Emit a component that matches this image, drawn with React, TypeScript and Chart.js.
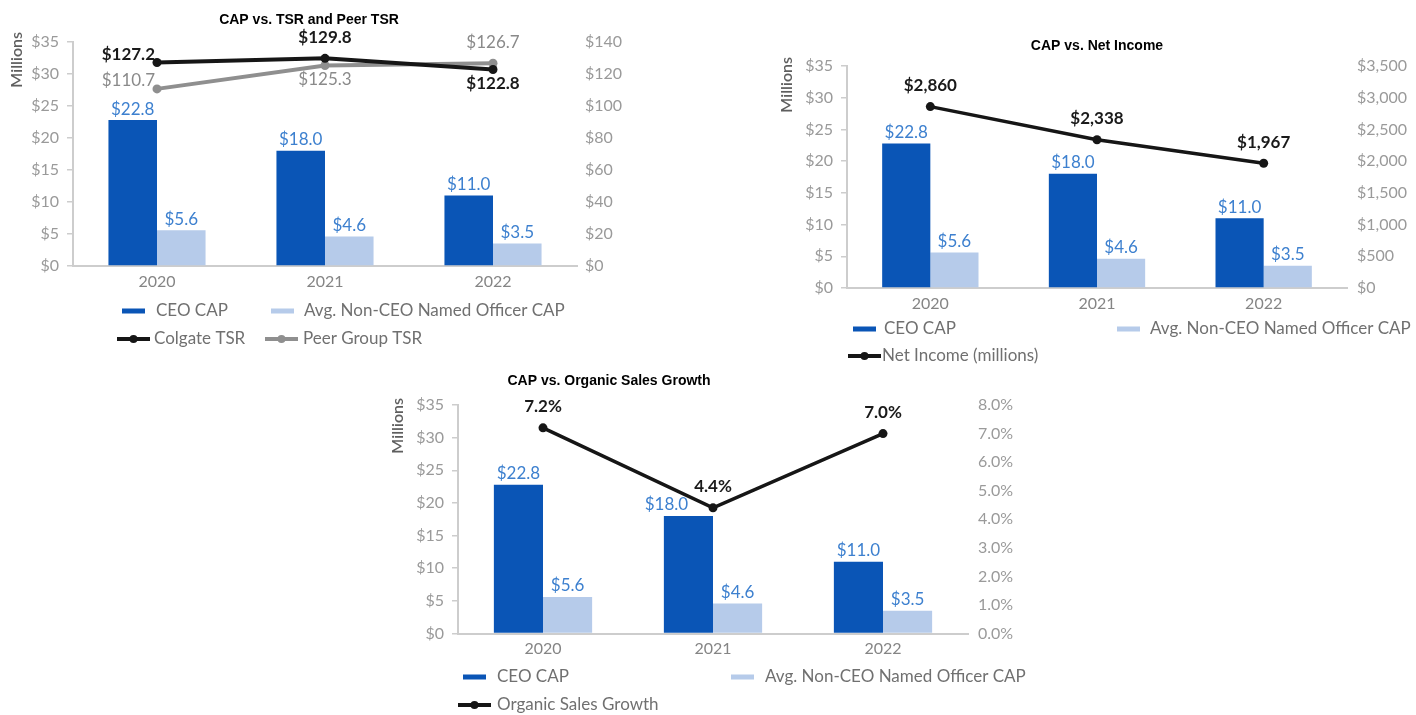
import React, { useEffect, useRef } from 'react';
import { Chart, registerables } from 'chart.js';

Chart.register(...registerables);

// ---------------- data ----------------
const categories = ['2020', '2021', '2022'];
const ceoCap = [22.8, 18.0, 11.0];
const avgNeoCap = [5.6, 4.6, 3.5];
const colgateTsr = [127.2, 129.8, 122.8];
const peerTsr = [110.7, 125.3, 126.7];
const netIncome = [2860, 2338, 1967];
const organicGrowth = [7.2, 4.4, 7.0];

const capAxis = { min: 0, max: 35, step: 5 };
const tsrAxis = { min: 0, max: 140, step: 20 };
const incomeAxis = { min: 0, max: 3500, step: 500 };
const growthAxis = { min: 0, max: 8, step: 1 };

// ---------------- styles ----------------
const CEO_COLOR = '#0a55b6';
const AVG_COLOR = '#b6cbea';
const BAR_LABEL = '#3d80cf';
const BLACK_LINE = '#161616';
const GREY_LINE = '#8f8f8f';
const TICK_COLOR = '#9a9a9a';
const AXIS_COLOR = '#cdcdcd';
const LEGEND_TEXT = '#707070';
const FONT = 'Lato, "Open Sans", sans-serif';

const WL = 55;
const WR = 60;
const HX = 30;

const fmtDollar1 = (v: number) => '$' + v.toFixed(1);
const fmtDollarInt = (v: number) => '$' + v.toLocaleString('en-US');
const fmtPct = (v: number) => v.toFixed(1) + '%';

type LineSpec = {
  label: string;
  data: number[];
  color: string;
  width: number;
  labelColor: string;
  bold: boolean;
  place: string[];
  fmt: (v: number) => string;
};

type LegendItem = { kind: 'bar' | 'line'; color: string; text: string; x: number; y: number; tx: number };

type Spec = {
  id: string;
  canvas: { x: number; y: number; w: number; h: number };
  area: { l: number; t: number; r: number; b: number };
  title: { text: string; x: number; y: number };
  millions: { x: number; top: number };
  right: { min: number; max: number; step: number; fmt: (v: number) => string; pad: number };
  lines: LineSpec[];
  legend: LegendItem[];
  // horizontal nudges for CEO bar labels (style only)
  ceoLabelDx: number[];
};

const specs: Spec[] = [
  {
    id: 'tsr',
    canvas: { x: 0, y: 0, w: 700, h: 362 },
    area: { l: 73, t: 42, r: 577, b: 266 },
    title: { text: 'CAP vs. TSR and Peer TSR', x: 309, y: 20 },
    millions: { x: 17, top: 32 },
    right: { ...tsrAxis, fmt: (v) => '$' + v, pad: 8 },
    lines: [
      { label: 'Colgate TSR', data: colgateTsr, color: BLACK_LINE, width: 4, labelColor: '#1a1a1a', bold: true, place: ['left', 'above', 'below'], fmt: fmtDollar1 },
      { label: 'Peer Group TSR', data: peerTsr, color: GREY_LINE, width: 4, labelColor: '#8a8a8a', bold: false, place: ['left', 'below', 'above'], fmt: fmtDollar1 },
    ],
    legend: [
      { kind: 'bar', color: CEO_COLOR, text: 'CEO CAP', x: 122, y: 311, tx: 156 },
      { kind: 'bar', color: AVG_COLOR, text: 'Avg. Non-CEO Named Officer CAP', x: 271, y: 311, tx: 304 },
      { kind: 'line', color: BLACK_LINE, text: 'Colgate TSR', x: 117, y: 339, tx: 154 },
      { kind: 'line', color: GREY_LINE, text: 'Peer Group TSR', x: 265, y: 339, tx: 303 },
    ],
    ceoLabelDx: [0, 0, 0],
  },
  {
    id: 'income',
    canvas: { x: 740, y: 0, w: 676, h: 372 },
    area: { l: 847, t: 66, r: 1347, b: 288 },
    title: { text: 'CAP vs. Net Income', x: 1097, y: 46 },
    millions: { x: 787, top: 57 },
    right: { ...incomeAxis, fmt: fmtDollarInt, pad: 10 },
    lines: [
      { label: 'Net Income (millions)', data: netIncome, color: BLACK_LINE, width: 3.5, labelColor: '#1a1a1a', bold: true, place: ['above', 'above', 'above'], fmt: fmtDollarInt },
    ],
    legend: [
      { kind: 'bar', color: CEO_COLOR, text: 'CEO CAP', x: 853, y: 329, tx: 884 },
      { kind: 'bar', color: AVG_COLOR, text: 'Avg. Non-CEO Named Officer CAP', x: 1117, y: 329, tx: 1150 },
      { kind: 'line', color: BLACK_LINE, text: 'Net Income (millions)', x: 848, y: 356, tx: 882 },
    ],
    ceoLabelDx: [0, 0, 0],
  },
  {
    id: 'growth',
    canvas: { x: 370, y: 362, w: 680, h: 353 },
    area: { l: 458, t: 405, r: 968, b: 633.5 },
    title: { text: 'CAP vs. Organic Sales Growth', x: 609, y: 381 },
    millions: { x: 398, top: 398 },
    right: { ...growthAxis, fmt: fmtPct, pad: 10 },
    lines: [
      { label: 'Organic Sales Growth', data: organicGrowth, color: BLACK_LINE, width: 3.5, labelColor: '#1a1a1a', bold: true, place: ['above', 'above', 'above'], fmt: fmtPct },
    ],
    legend: [
      { kind: 'bar', color: CEO_COLOR, text: 'CEO CAP', x: 463, y: 677, tx: 497 },
      { kind: 'bar', color: AVG_COLOR, text: 'Avg. Non-CEO Named Officer CAP', x: 731, y: 677, tx: 765 },
      { kind: 'line', color: BLACK_LINE, text: 'Organic Sales Growth', x: 458, y: 705, tx: 497 },
    ],
    ceoLabelDx: [0, -22, 0],
  },
];

function overlayPlugin(spec: Spec) {
  return {
    id: 'overlay_' + spec.id,
    afterDraw(chart: any) {
      const ctx: CanvasRenderingContext2D = chart.ctx;
      const ox = spec.canvas.x;
      const oy = spec.canvas.y;
      ctx.save();

      // title
      ctx.font = 'bold 14px "Liberation Sans", Arial, sans-serif';
      ctx.fillStyle = '#000';
      ctx.textAlign = 'center';
      ctx.textBaseline = 'middle';
      ctx.fillText(spec.title.text, spec.title.x - ox, spec.title.y - oy);

      // "Millions"
      ctx.save();
      ctx.translate(spec.millions.x - ox, spec.millions.top - oy);
      ctx.rotate(-Math.PI / 2);
      ctx.font = '600 16px ' + FONT;
      ctx.fillStyle = '#5e5e5e';
      ctx.textAlign = 'right';
      ctx.textBaseline = 'middle';
      ctx.fillText('Millions', 0, 0);
      ctx.restore();

      // data labels
      chart.data.datasets.forEach((ds: any, i: number) => {
        const meta = chart.getDatasetMeta(i);
        meta.data.forEach((el: any, j: number) => {
          const v = ds.data[j];
          if (ds.type === 'line') {
            const ls: LineSpec = ds._spec;
            ctx.font = (ls.bold ? 'bold ' : '') + '17px ' + FONT;
            ctx.fillStyle = ls.labelColor;
            ctx.textBaseline = 'middle';
            const p = ls.place[j];
            if (p === 'left') {
              ctx.textAlign = 'right';
              ctx.fillText(ls.fmt(v), el.x - 2, el.y - 8);
            } else if (p === 'below') {
              ctx.textAlign = 'center';
              ctx.fillText(ls.fmt(v), el.x, el.y + 14);
            } else {
              ctx.textAlign = 'center';
              ctx.fillText(ls.fmt(v), el.x, el.y - 21);
            }
          } else {
            const dx = ds._isCeo ? spec.ceoLabelDx[j] : 0;
            ctx.font = '17px ' + FONT;
            ctx.fillStyle = BAR_LABEL;
            ctx.textAlign = 'center';
            ctx.textBaseline = 'middle';
            ctx.fillText(fmtDollar1(v), el.x + dx, el.y - 11);
          }
        });
      });

      // legend
      spec.legend.forEach((it) => {
        const x = it.x - ox;
        const y = it.y - oy;
        if (it.kind === 'bar') {
          ctx.fillStyle = it.color;
          ctx.fillRect(x, y - 2.5, 23, 5);
        } else {
          ctx.strokeStyle = it.color;
          ctx.lineWidth = 4;
          ctx.beginPath();
          ctx.moveTo(x, y);
          ctx.lineTo(x + 33, y);
          ctx.stroke();
          ctx.fillStyle = it.color;
          ctx.beginPath();
          ctx.arc(x + 16.5, y, 4, 0, Math.PI * 2);
          ctx.fill();
        }
        ctx.font = '17px ' + FONT;
        ctx.fillStyle = LEGEND_TEXT;
        ctx.textAlign = 'left';
        ctx.textBaseline = 'middle';
        ctx.fillText(it.text, it.tx - ox, y);
      });

      ctx.restore();
    },
  };
}

function buildConfig(spec: Spec): any {
  const c = spec.canvas;
  const a = spec.area;
  const padding = {
    left: a.l - c.x - WL,
    right: c.x + c.w - a.r - WR,
    top: a.t - c.y,
    bottom: c.y + c.h - a.b - HX,
  };
  const lineDatasets = spec.lines.map((ls, k) => ({
    type: 'line',
    label: ls.label,
    data: ls.data,
    yAxisID: 'y1',
    borderColor: ls.color,
    backgroundColor: ls.color,
    borderWidth: ls.width,
    pointRadius: 4.5,
    pointBackgroundColor: ls.color,
    pointBorderWidth: 0,
    tension: 0,
    order: k,
    _spec: ls,
  }));
  return {
    type: 'bar',
    data: {
      labels: categories,
      datasets: [
        {
          type: 'bar',
          label: 'CEO CAP',
          data: ceoCap,
          backgroundColor: CEO_COLOR,
          yAxisID: 'y',
          categoryPercentage: 0.578,
          barPercentage: 1.0,
          order: 10,
          _isCeo: true,
        },
        {
          type: 'bar',
          label: 'Avg. Non-CEO Named Officer CAP',
          data: avgNeoCap,
          backgroundColor: AVG_COLOR,
          yAxisID: 'y',
          categoryPercentage: 0.578,
          barPercentage: 1.0,
          order: 11,
        },
        ...lineDatasets,
      ],
    },
    options: {
      responsive: false,
      maintainAspectRatio: false,
      animation: false,
      devicePixelRatio: 1,
      events: [],
      layout: { padding },
      plugins: {
        legend: { display: false },
        title: { display: false },
        tooltip: { enabled: false },
      },
      scales: {
        x: {
          type: 'category',
          offset: true,
          grid: { display: true, drawOnChartArea: false, drawTicks: false },
          border: { display: true, color: AXIS_COLOR, width: 2 },
          ticks: { color: '#858585', font: { family: FONT, size: 16 }, padding: 6, maxRotation: 0 },
          afterFit: (s: any) => {
            s.height = HX;
          },
        },
        y: {
          position: 'left',
          min: capAxis.min,
          max: capAxis.max,
          ticks: {
            stepSize: capAxis.step,
            callback: (v: any) => '$' + v,
            color: TICK_COLOR,
            font: { family: FONT, size: 16 },
            padding: 8,
          },
          grid: { display: true, drawOnChartArea: false, drawTicks: true, tickLength: 6, color: AXIS_COLOR, lineWidth: 1.5 },
          border: { display: true, color: AXIS_COLOR, width: 2 },
          afterFit: (s: any) => {
            s.width = WL;
          },
        },
        y1: {
          position: 'right',
          min: spec.right.min,
          max: spec.right.max,
          ticks: {
            stepSize: spec.right.step,
            callback: (v: any) => spec.right.fmt(Number(v)),
            color: TICK_COLOR,
            font: { family: FONT, size: 16 },
            padding: spec.right.pad,
          },
          grid: { display: false, drawTicks: false },
          border: { display: false },
          afterFit: (s: any) => {
            s.width = WR;
          },
        },
      },
    },
    plugins: [overlayPlugin(spec)],
  };
}

function ChartCanvas({ spec }: { spec: Spec }) {
  const ref = useRef<HTMLCanvasElement>(null);
  useEffect(() => {
    if (!ref.current) return;
    const chart = new Chart(ref.current, buildConfig(spec));
    return () => chart.destroy();
  }, [spec]);
  const c = spec.canvas;
  return (
    <canvas
      ref={ref}
      width={c.w}
      height={c.h}
      style={{ position: 'absolute', left: c.x, top: c.y, width: c.w, height: c.h }}
    />
  );
}

export default function App() {
  return (
    <div style={{ position: 'absolute', left: 0, top: 0, width: 1416, height: 715, background: '#fff', overflow: 'hidden' }}>
      {specs.map((s) => (
        <ChartCanvas key={s.id} spec={s} />
      ))}
    </div>
  );
}
